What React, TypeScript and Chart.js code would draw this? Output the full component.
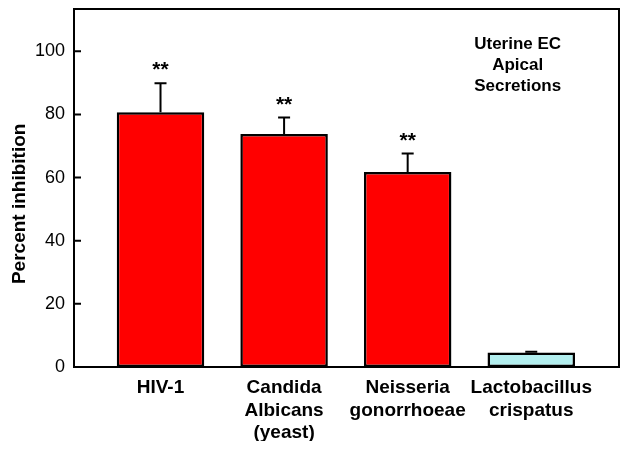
import React, { useEffect, useRef } from "react";
import { Chart, registerables } from "chart.js";

Chart.register(...registerables);

// ---- Data ----
const categories: string[][] = [
  ["HIV-1"],
  ["Candida", "Albicans", "(yeast)"],
  ["Neisseria", "gonorrhoeae"],
  ["Lactobacillus", "crispatus"],
];
const inhibition = [80.7, 73.8, 61.8, 4.6];
const errors = [9.2, 5.2, 5.8, 0.2];
const significance = ["**", "**", "**", ""];
const barColors = ["#FF0000", "#FF0000", "#FF0000", "#B3EFEF"];
const yTicks = [0, 20, 40, 60, 80, 100];
const annotationLines = ["Uterine EC", "Apical", "Secretions"];

const FONT = "'Liberation Sans', Arial, Helvetica, sans-serif";

const customPlugin = {
  id: "customDraw",
  afterDatasetsDraw(chart: any) {
    const ctx = chart.ctx;
    const ys = chart.scales.y;
    const meta = chart.getDatasetMeta(0);
    ctx.save();
    meta.data.forEach((bar: any, i: number) => {
      const base = ys.getPixelForValue(inhibition[i]);
      const top = ys.getPixelForValue(inhibition[i] + errors[i]);
      ctx.strokeStyle = "#000";
      ctx.lineWidth = 2;
      ctx.beginPath();
      ctx.moveTo(bar.x, base);
      ctx.lineTo(bar.x, top);
      ctx.moveTo(bar.x - 6, top);
      ctx.lineTo(bar.x + 6, top);
      ctx.stroke();
      if (significance[i]) {
        ctx.fillStyle = "#000";
        ctx.font = `bold 21px ${FONT}`;
        ctx.textAlign = "center";
        ctx.textBaseline = "alphabetic";
        ctx.fillText(significance[i], bar.x, top - 7);
      }
    });
    ctx.restore();
  },
  afterDraw(chart: any) {
    const ctx = chart.ctx;
    const a = chart.chartArea;
    const xs = chart.scales.x;
    const ys = chart.scales.y;
    ctx.save();
    // frame
    ctx.strokeStyle = "#000";
    ctx.lineWidth = 2;
    ctx.strokeRect(a.left, a.top, a.right - a.left, a.bottom - a.top);
    // inward y ticks
    ctx.beginPath();
    yTicks.forEach((v) => {
      const py = ys.getPixelForValue(v);
      ctx.moveTo(a.left, py);
      ctx.lineTo(a.left + 7, py);
    });
    ctx.stroke();
    // annotation
    const ann = chart.options.plugins.customDraw;
    const cx = xs.getPixelForValue(ann.x);
    const cy = ys.getPixelForValue(ann.y);
    ctx.fillStyle = "#000";
    ctx.font = `bold 17px ${FONT}`;
    ctx.textAlign = "center";
    ctx.textBaseline = "middle";
    annotationLines.forEach((line, i) => {
      ctx.fillText(line, cx, cy + (i - 1) * ann.lineHeight);
    });
    ctx.restore();
  },
};

export default function App() {
  const ref = useRef<HTMLCanvasElement | null>(null);

  useEffect(() => {
    if (!ref.current) return;
    const chart = new Chart(ref.current, {
      type: "bar",
      data: {
        datasets: [
          {
            data: inhibition.map((v, i) => ({ x: i, y: v })),
            backgroundColor: barColors,
            borderColor: "#000",
            borderWidth: 2.5,
            borderSkipped: false,
            categoryPercentage: 1,
            barPercentage: 0.708,
          },
        ],
      },
      options: {
        animation: false,
        responsive: true,
        maintainAspectRatio: false,
        layout: { padding: { top: 1, right: 2, left: 0, bottom: 0 } },
        plugins: {
          legend: { display: false },
          tooltip: { enabled: false },
          customDraw: { x: 2.89, y: 95.7, lineHeight: 21 },
        } as any,
        scales: {
          x: {
            type: "linear",
            offset: false,
            min: -0.7,
            max: 3.71,
            grid: { display: false, drawTicks: false, offset: false },
            border: { display: false },
            afterBuildTicks: (scale: any) => {
              scale.ticks = categories.map((_, i) => ({ value: i }));
            },
            afterFit: (scale: any) => {
              scale.height = 74;
              scale.paddingLeft = 0;
              scale.paddingRight = 0;
            },
            ticks: {
              autoSkip: false,
              maxRotation: 0,
              minRotation: 0,
              padding: 10,
              color: "#000",
              font: { family: FONT, size: 19, weight: "bold", lineHeight: 1.17 },
              callback: (value: any) => categories[value] ?? "",
            },
          },
          y: {
            type: "linear",
            min: 0,
            max: 113.4,
            grid: { display: false, drawTicks: false },
            border: { display: false },
            afterBuildTicks: (scale: any) => {
              scale.ticks = yTicks.map((v) => ({ value: v }));
            },
            afterFit: (scale: any) => {
              scale.width = 66;
              scale.paddingTop = 0;
              scale.paddingBottom = 0;
            },
            ticks: {
              padding: 9,
              color: "#000",
              font: { family: FONT, size: 18 },
            },
            title: {
              display: true,
              text: "Percent inhibition      ",
              color: "#000",
              padding: 0,
              font: { family: FONT, size: 19, weight: "bold" },
            },
          },
        },
      },
      plugins: [customPlugin],
    });
    return () => chart.destroy();
  }, []);

  return (
    <div style={{ position: "relative", width: 613, height: 433 }}>
      <canvas ref={ref} />
    </div>
  );
}
